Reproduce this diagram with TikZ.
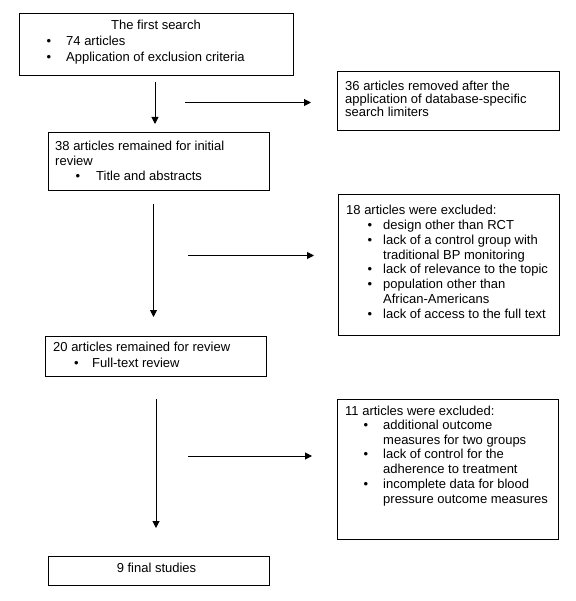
\documentclass[tikz,border=0pt]{standalone}
\usepackage{fontspec}
\setmainfont{Liberation Sans}
\usetikzlibrary{arrows.meta}
\newcommand\tline[4]{\node[txt,anchor=base west] (#1) at (#2,#3+4.5) {#4};}
\newcommand\ctline[4]{\node[txt,anchor=base] (#1) at (#2,#3+4.5) {#4};}
\newcommand\bline[5]{\node[txt,anchor=base] (#1b) at (#2,#4+4.5) {\textbullet};\node[txt,anchor=base west] (#1) at (#3,#4+4.5) {#5};}
\newcommand\boxat[5]{\node[frame,anchor=north west,minimum width=#4-#2,minimum height=#5-#3] (#1) at (#2,#3) {};}
\begin{document}
\begin{tikzpicture}[x=1pt,y=-1pt,
  txt/.style={inner sep=0pt,font=\fontsize{13}{15}\selectfont},
  frame/.style={draw,line width=1pt,inner sep=0pt,outer sep=0pt},
  arr/.style={line width=1pt,-{Triangle[length=7pt,width=7pt]}}]
\useasboundingbox[fill=white] (0,0) rectangle (575,601);
% boxes
\boxat{b1}{19}{14}{293}{76}
\boxat{b2}{337}{72}{559}{131}
\boxat{b3}{48}{133}{269}{191}
\boxat{b4}{338}{195}{559}{335}
\boxat{b5}{45}{336}{266}{376}
\boxat{b6}{337}{399}{558}{539}
\boxat{b7}{48}{556}{269}{585}
% box 1
\ctline{t1a}{156}{25}{The first search}
\bline{t1c}{49}{66}{41}{74 articles}
\bline{t1d}{49}{66}{57}{Application of exclusion criteria}
% box 2
\tline{t2a}{345}{86}{36 articles removed after the}
\tline{t2b}{345}{99}{application of database-specific}
\tline{t2c}{345}{112}{search limiters}
% box 3
\tline{t3a}{55}{146}{38 articles remained for initial}
\tline{t3b}{55}{161}{review}
\bline{t3c}{78}{96}{176}{Title and abstracts}
% box 4
\tline{t4a}{346}{210}{18 articles were excluded:}
\bline{t4b}{370}{383}{225}{design other than RCT}
\bline{t4c}{370}{383}{240}{lack of a control group with}
\tline{t4d}{383}{255}{traditional BP monitoring}
\bline{t4e}{370}{383}{269}{lack of relevance to the topic}
\bline{t4f}{370}{383}{284}{population other than}
\tline{t4g}{383}{299}{African-Americans}
\bline{t4h}{370}{383}{314}{lack of access to the full text}
% box 5
\tline{t5a}{53}{347}{20 articles remained for review}
\bline{t5b}{76.5}{92}{363}{Full-text review}
% box 6
\tline{t6a}{345}{411}{11 articles were excluded:}
\bline{t6b}{366}{383}{425}{additional outcome}
\tline{t6c}{383}{440}{measures for two groups}
\bline{t6d}{366}{383}{454}{lack of control for the}
\tline{t6e}{383}{469}{adherence to treatment}
\bline{t6f}{366}{383}{484}{incomplete data for blood}
\tline{t6g}{383}{499}{pressure outcome measures}
% box 7
\ctline{t7a}{156.5}{568}{9 final studies}
% connectors
\coordinate (v1s) at (155,82);  \coordinate (v1e) at (155,124);
\coordinate (h1s) at (185,102.5); \coordinate (h1e) at (311,102.5);
\coordinate (v2s) at (153.5,204); \coordinate (v2e) at (153.5,317);
\coordinate (h2s) at (188,255.5); \coordinate (h2e) at (314,255.5);
\coordinate (v3s) at (156,399); \coordinate (v3e) at (156,528);
\coordinate (h3s) at (188,456); \coordinate (h3e) at (312,456);
\draw[arr] (v1s) -- (v1e);
\draw[arr] (h1s) -- (h1e);
\draw[arr] (v2s) -- (v2e);
\draw[arr] (h2s) -- (h2e);
\draw[arr] (v3s) -- (v3e);
\draw[arr] (h3s) -- (h3e);
\end{tikzpicture}
\end{document}
